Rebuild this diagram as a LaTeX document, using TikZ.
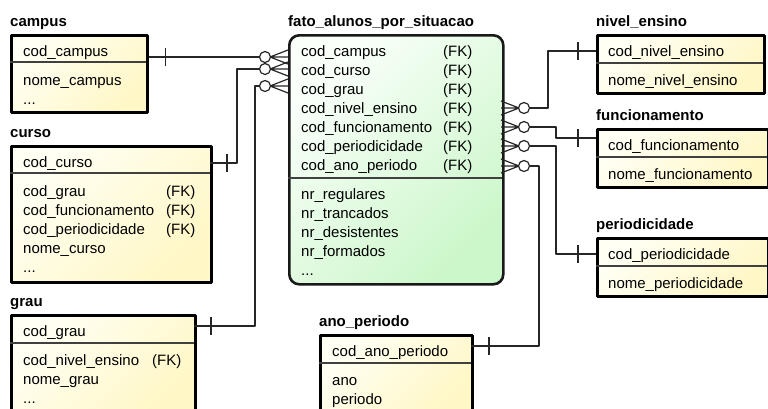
\documentclass[tikz,border=0pt]{standalone}
\usepackage{fontspec}
\setmainfont{Liberation Sans}
\definecolor{yelA}{RGB}{255,255,244}
\definecolor{yelB}{RGB}{255,247,198}
\definecolor{grnA}{RGB}{250,255,250}
\definecolor{grnB}{RGB}{204,247,202}
\tikzset{
  many/.pic={
    \draw[link] (5,0) -- (23,-7) (5,0) -- (23,0) (5,0) -- (23,7);
    \draw[link,fill=white] (0,0) circle (5.5);
  },
  one/.pic={\draw[link] (0,-9) -- (0,9);}
}
\begin{document}
\begin{tikzpicture}[x=1pt,y=-1pt,line join=round,
  every node/.style={font=\fontsize{15}{18}\selectfont,inner sep=0pt},
  ttl/.style={anchor=base west,font=\fontsize{15}{18}\selectfont\bfseries},
  row/.style={anchor=base west},
  tab/.style={draw=black,line width=2.6pt,anchor=north west,top color=yelA,bottom color=yelB,shading angle=45},
  fact/.style={draw=black!90,line width=2.6pt,rounded corners=10pt,anchor=north west,top color=grnA,bottom color=grnB,shading angle=45},
  sep/.style={line width=1.3pt,black!75},
  link/.style={line width=1.2pt,black!85}]
\useasboundingbox (0,0) rectangle (768,408);

% campus
\node[ttl] (campus-t) at (10,26) {campus};
\node[tab,minimum width=136,minimum height=77] (campus) at (10,34) {};
\draw[sep] (10,62) -- (146,62);
\node[row] (campus-pk) at (23,56) {cod\_campus};
\node[row] (campus-a1) at (23,85) {nome\_campus};
\node[row] (campus-a2) at (23,104) {...};

% curso
\node[ttl] (curso-t) at (10,137) {curso};
\node[tab,minimum width=200,minimum height=136] (curso) at (10,145) {};
\draw[sep] (10,173) -- (210,173);
\node[row] (curso-pk) at (23,167) {cod\_curso};
\node[row] (curso-a1) at (23,196) {cod\_grau};
\node[row] (curso-a2) at (23,215) {cod\_funcionamento};
\node[row] (curso-a3) at (23,234) {cod\_periodicidade};
\node[row] (curso-a4) at (23,253) {nome\_curso};
\node[row] (curso-a5) at (23,272) {...};
\node[row] (curso-f1) at (166,196) {(FK)};
\node[row] (curso-f2) at (166,215) {(FK)};
\node[row] (curso-f3) at (166,234) {(FK)};

% grau
\node[ttl] (grau-t) at (10,306) {grau};
\node[tab,minimum width=184,minimum height=98] (grau) at (10,314) {};
\draw[sep] (10,343) -- (194,343);
\node[row] (grau-pk) at (23,336) {cod\_grau};
\node[row] (grau-a1) at (23,365) {cod\_nivel\_ensino};
\node[row] (grau-a2) at (23,384) {nome\_grau};
\node[row] (grau-a3) at (23,403) {...};
\node[row] (grau-f1) at (152,365) {(FK)};

% fato_alunos_por_situacao
\node[ttl] (fato-t) at (288,26) {fato\_alunos\_por\_situacao};
\node[fact,minimum width=214,minimum height=249] (fato) at (288,34) {};
\draw[sep] (288,178) -- (502,178);
\foreach \nm [count=\i] in {campus,curso,grau,nivel\_ensino,funcionamento,periodicidade,ano\_periodo}{
  \node[row] (fato-k\i) at (301,{37+19*\i}) {cod\_\nm};
  \node[row] (fato-f\i) at (443,{37+19*\i}) {(FK)};
}
\foreach \nm [count=\i] in {nr\_regulares,nr\_trancados,nr\_desistentes,nr\_formados}{
  \node[row] (fato-m\i) at (301,{180+19*\i}) {\nm};
}
\node[row] (fato-m5) at (301,275) {...};

% nivel_ensino
\node[ttl] (nivel-t) at (596,26) {nivel\_ensino};
\node[tab,minimum width=167,minimum height=58] (nivel) at (596,34) {};
\draw[sep] (596,63) -- (763,63);
\node[row] (nivel-pk) at (608,56) {cod\_nivel\_ensino};
\node[row] (nivel-a1) at (608,85) {nome\_nivel\_ensino};

% funcionamento
\node[ttl] (func-t) at (596,120) {funcionamento};
\node[tab,minimum width=171,minimum height=58] (func) at (596,128) {};
\draw[sep] (596,157) -- (767,157);
\node[row] (func-pk) at (608,150) {cod\_funcionamento};
\node[row] (func-a1) at (608,179) {nome\_funcionamento};

% periodicidade
\node[ttl] (peri-t) at (596,229) {periodicidade};
\node[tab,minimum width=171,minimum height=58] (peri) at (596,237) {};
\draw[sep] (596,266) -- (767,266);
\node[row] (peri-pk) at (608,259) {cod\_periodicidade};
\node[row] (peri-a1) at (608,288) {nome\_periodicidade};

% ano_periodo
\node[ttl] (ano-t) at (319,326) {ano\_periodo};
\node[tab,minimum width=152,minimum height=78] (ano) at (319,334) {};
\draw[sep] (319,363) -- (471,363);
\node[row] (ano-pk) at (332,356) {cod\_ano\_periodo};
\node[row] (ano-a1) at (332,385) {ano};
\node[row] (ano-a2) at (332,404) {periodo};

% ends of the links
\coordinate (fc1) at (265,57);
\coordinate (fc2) at (265,69);
\coordinate (fc3) at (265,86);
\coordinate (fr1) at (524,108);
\coordinate (fr2) at (524,127);
\coordinate (fr3) at (524,146);
\coordinate (fr4) at (524,166);
\coordinate (campus-c) at (campus.east |- fc1);
\coordinate (curso-c) at (210,163);
\coordinate (grau-c) at (194,326);
\coordinate (nivel-c) at (596,51);
\coordinate (func-c) at (596,138);
\coordinate (peri-c) at (596,254);
\coordinate (ano-c) at (471,346);

\draw[link] (campus-c) -- (fc1);
\draw[link] (curso-c) -- ++(27,0) |- (fc2);
\draw[link] (grau-c) -- ++(61,0) |- (fc3);
\draw[link] (fr1) -- ++(24,0) |- (nivel-c);
\draw[link] (fr2) -- ++(32,0) |- (func-c);
\draw[link] (fr3) -- ++(32,0) |- (peri-c);
\draw[link] (fr4) -- ++(15,0) |- (ano-c);

\pic at (fc1) {many};
\pic at (fc2) {many};
\pic at (fc3) {many};
\pic[xscale=-1] at (fr1) {many};
\pic[xscale=-1] at (fr2) {many};
\pic[xscale=-1] at (fr3) {many};
\pic[xscale=-1] at (fr4) {many};

\pic at ([xshift=17pt]campus-c) {one};
\pic at ([xshift=17pt]curso-c) {one};
\pic at ([xshift=17pt]grau-c) {one};
\pic at ([xshift=-18pt]nivel-c) {one};
\pic at ([xshift=-18pt]func-c) {one};
\pic at ([xshift=-18pt]peri-c) {one};
\pic at ([xshift=18pt]ano-c) {one};
\end{tikzpicture}
\end{document}
